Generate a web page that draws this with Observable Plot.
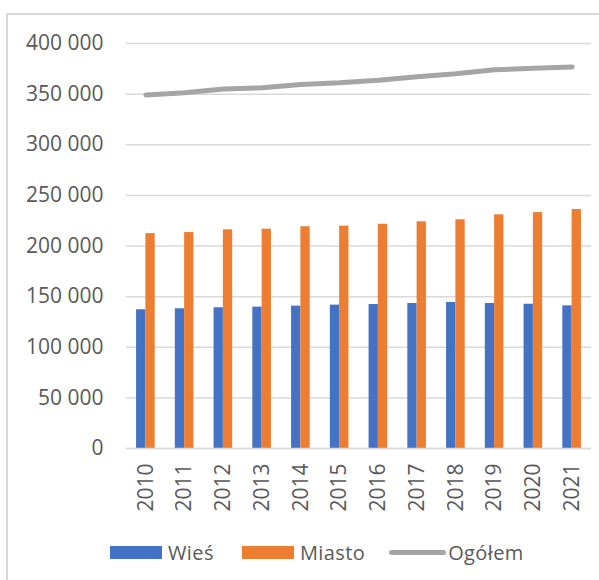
<!DOCTYPE html>
<html>
<head>
<meta charset="utf-8">
<script src="https://cdn.jsdelivr.net/npm/d3@7"></script>
<script src="https://cdn.jsdelivr.net/npm/@observablehq/plot@0.6"></script>
<style>
  html, body { margin: 0; padding: 0; background: #fff; }
  body { position: relative; width: 599px; height: 580px; overflow: hidden; font-family: "Open Sans", sans-serif; }
  #frame { position: absolute; left: 6px; top: 13px; width: 640px; height: 640px; border: 2px solid #d9d9d9; box-sizing: border-box; }
  #chart { position: absolute; left: 0; top: 0; }
  #legend { position: absolute; top: 539px; left: 110px; display: flex; align-items: center; font-size: 20px; color: #595959; letter-spacing: 0.4px; }
  .item { display: flex; align-items: center; }
  .sw { width: 52px; height: 13px; margin-right: 6px; }
  .ln { width: 57px; height: 5px; border-radius: 3px; background: #a5a5a5; margin-right: 2px; }
</style>
</head>
<body>
<div id="frame"></div>
<div id="chart"></div>
<div id="legend"></div>
<script>
const years = ["2010","2011","2012","2013","2014","2015","2016","2017","2018","2019","2020","2021"];
const wies = [137000, 138000, 139000, 139600, 140600, 141600, 142200, 143200, 144200, 143200, 142500, 140900];
const miasto = [212200, 213300, 216000, 216600, 219000, 219600, 221500, 223900, 225900, 230800, 233000, 236000];
const ogolem = [349200, 351300, 355000, 356200, 359600, 361200, 363700, 367100, 370100, 374000, 375500, 376900];
const yTicks = [0, 50000, 100000, 150000, 200000, 250000, 300000, 350000, 400000];
const seriesNames = ["Wieś", "Miasto", "Ogółem"];
const colors = ["#4472c4", "#ed7d31", "#a5a5a5"];

const rowsW = years.map((y, i) => ({year: y, value: wies[i]}));
const rowsM = years.map((y, i) => ({year: y, value: miasto[i]}));
const rowsO = years.map((y, i) => ({year: y, value: ogolem[i]}));

const W = 599, H = 520, mL = 126, mR = 8, mT = 43, mB = 72;
const step = (W - mL - mR) / years.length;
const barW = 9.3;
const half = step / 2;

const fmt = d => d3.format(",")(d).replace(/,/g, " ");

const chart = Plot.plot({
  width: W, height: H,
  marginLeft: mL, marginRight: mR, marginTop: mT, marginBottom: mB,
  style: { fontFamily: "Open Sans, sans-serif", background: "transparent" },
  x: { domain: years, padding: 0, round: false, label: null },
  y: { domain: [0, 400000], label: null },
  marks: [
    Plot.gridY(yTicks, { stroke: "#d9d9d9", strokeOpacity: 1, strokeWidth: 1.5 }),
    Plot.barY(rowsW, { x: "year", y: "value", fill: colors[0], insetLeft: half - barW, insetRight: half }),
    Plot.barY(rowsM, { x: "year", y: "value", fill: colors[1], insetLeft: half, insetRight: half - barW }),
    Plot.ruleY([0], { stroke: "#d9d9d9", strokeWidth: 1.5 }),
    Plot.lineY(rowsO, { x: "year", y: "value", stroke: colors[2], strokeWidth: 5, strokeLinecap: "round", strokeLinejoin: "round" }),
    Plot.axisY(yTicks, { tickSize: 0, tickPadding: 23, tickFormat: fmt, fontSize: 21, fill: "#595959", label: null }),
    Plot.axisX({ tickSize: 0, tickPadding: 15, tickRotate: -90, fontSize: 21, fill: "#595959", label: null })
  ]
});
document.getElementById("chart").appendChild(chart);

const legend = document.getElementById("legend");
const gaps = [0, 28, 24];
seriesNames.forEach((name, i) => {
  const item = document.createElement("div");
  item.className = "item";
  item.style.marginLeft = gaps[i] + "px";
  const sw = document.createElement("div");
  if (i < 2) { sw.className = "sw"; sw.style.background = colors[i]; }
  else { sw.className = "ln"; }
  const t = document.createElement("span");
  t.textContent = name;
  item.appendChild(sw);
  item.appendChild(t);
  legend.appendChild(item);
});
</script>
</body>
</html>
